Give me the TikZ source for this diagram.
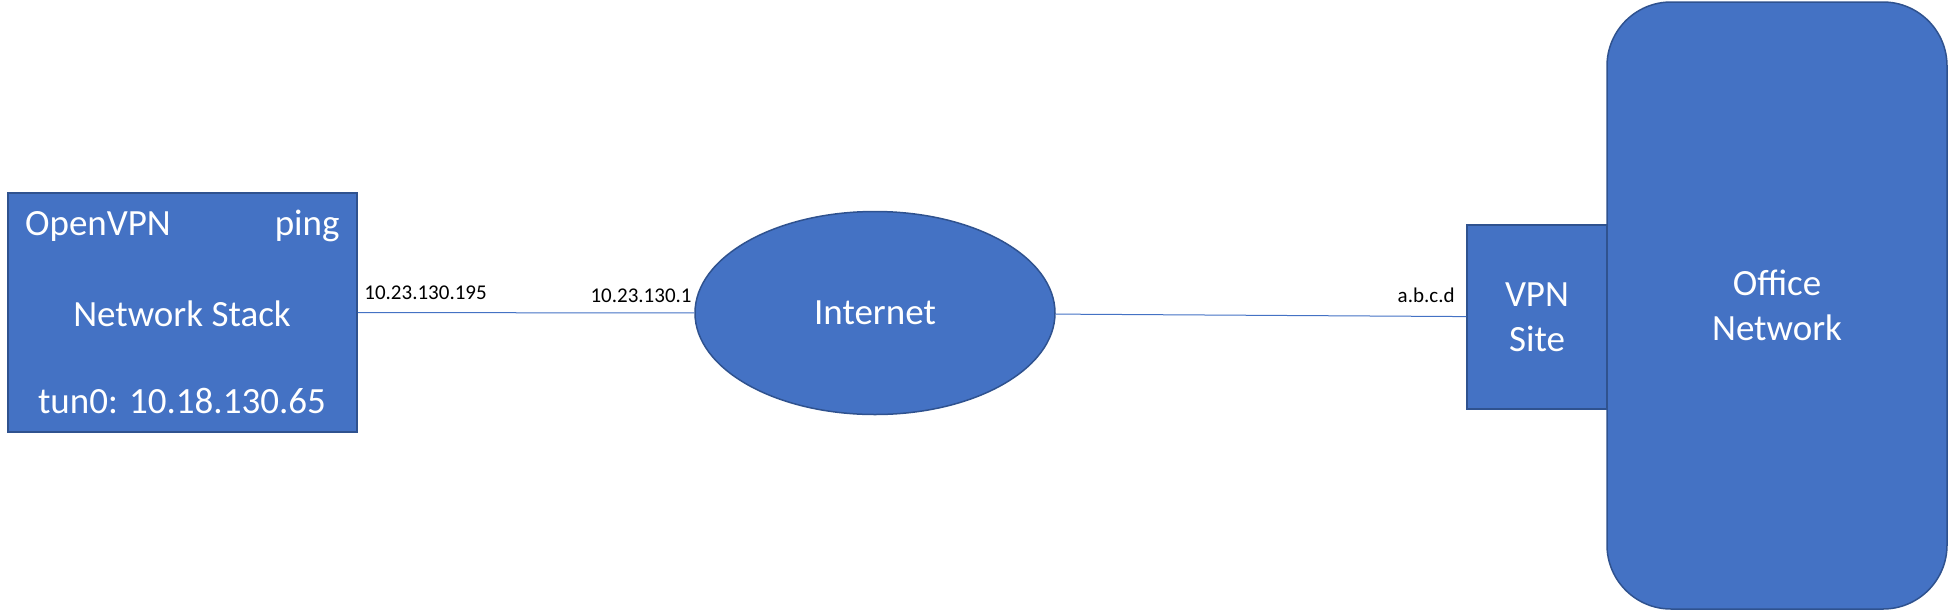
\documentclass[tikz,border=0pt]{standalone}
\usepackage{fontspec}
\setmainfont{Carlito}
\usetikzlibrary{shapes.geometric}
\definecolor{boxblue}{HTML}{4472C4}
\definecolor{boxedge}{HTML}{2F528F}

\begin{document}
\begin{tikzpicture}[x=0.5pt, y=-0.5pt,
  blk/.style={draw=boxedge, fill=boxblue, line width=0.75pt, text=white, align=center, inner sep=0pt, font=\fontsize{18.5}{22.5}\selectfont},
  txt/.style={text=white, inner sep=0pt, font=\fontsize{18.5}{22.5}\selectfont},
  addr/.style={inner sep=0pt, font=\fontsize{10.5}{12}\selectfont}]
  \useasboundingbox (0,0) rectangle (1950,612);
  \node[blk, minimum width=174.5pt, minimum height=119.5pt] (stack) at (182.5,312.5) {};
  \node[txt, anchor=base] (openvpn) at (98,235) {OpenVPN};
  \node[txt, anchor=base east] (ping) at (340,235) {ping};
  \node[txt, anchor=base] (netstack) at (182,326) {Network Stack};
  \node[txt, anchor=base] (tun) at (182,413) {tun0: 10.18.130.65};
  \node[blk, ellipse, minimum width=180pt, minimum height=101.5pt] (inet) at (875,313) {Internet};
  \node[blk, minimum width=170pt, minimum height=303.5pt, rounded corners=32pt] (office) at (1777,305.5) {Office\\Network};
  \node[blk, minimum width=70pt, minimum height=92pt] (site) at (1537,317) {VPN\\Site};
  \draw[boxblue, line width=0.5pt] (stack) -- (inet);
  \draw[boxblue, line width=0.5pt] (inet) -- (site);
  \node[addr, anchor=base west] (ipa) at (364,299) {10.23.130.195};
  \node[addr, anchor=base east] (ipb) at (692,302) {10.23.130.1};
  \node[addr, anchor=base east] (ipc) at (1455,302) {a.b.c.d};
\end{tikzpicture}
\end{document}
